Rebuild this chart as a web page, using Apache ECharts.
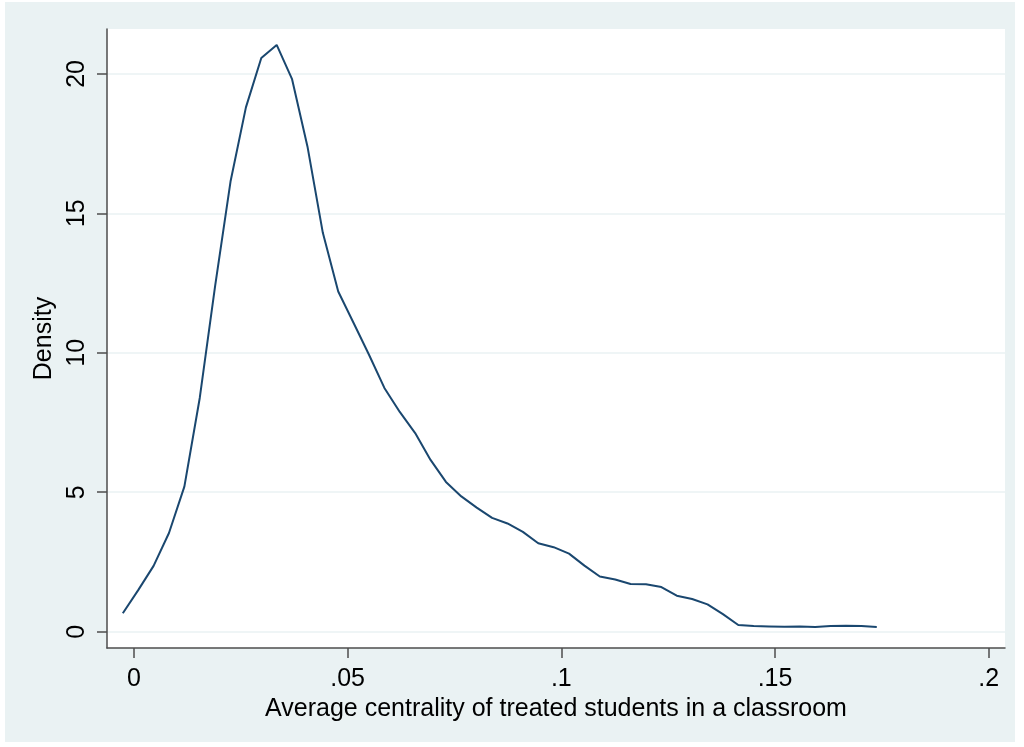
<!DOCTYPE html>
<html>
<head>
<meta charset="utf-8">
<script src="https://cdn.jsdelivr.net/npm/echarts@6/dist/echarts.min.js"></script>
<style>
  html, body { margin: 0; padding: 0; background: #ffffff; }
  #chart { position: absolute; left: 5px; top: 2px; width: 1010px; height: 740px; background: #eaf2f3; }
</style>
</head>
<body>
<div id="chart"></div>
<script>
// Kernel density estimate: evaluation points and density values
const xPoints = [
  -0.0026, 0.0010, 0.0046, 0.0082, 0.0118, 0.0154, 0.0190, 0.0226, 0.0262, 0.0298,
  0.0334, 0.0370, 0.0406, 0.0442, 0.0478, 0.0514, 0.0550, 0.0586, 0.0622, 0.0658,
  0.0694, 0.0730, 0.0766, 0.0802, 0.0838, 0.0874, 0.0910, 0.0946, 0.0982, 0.1018,
  0.1054, 0.1090, 0.1126, 0.1162, 0.1198, 0.1234, 0.1270, 0.1306, 0.1342, 0.1378,
  0.1414, 0.1450, 0.1486, 0.1522, 0.1558, 0.1594, 0.1630, 0.1666, 0.1702, 0.1738
];
const densityValues = [
  0.66, 1.49, 2.36, 3.54, 5.20, 8.38, 12.40, 16.14, 18.80, 20.57,
  21.04, 19.81, 17.40, 14.30, 12.20, 11.07, 9.93, 8.74, 7.88, 7.12,
  6.16, 5.37, 4.85, 4.45, 4.08, 3.88, 3.58, 3.17, 3.03, 2.80,
  2.37, 1.98, 1.87, 1.71, 1.70, 1.60, 1.29, 1.17, 0.98, 0.63,
  0.24, 0.20, 0.19, 0.18, 0.19, 0.17, 0.20, 0.21, 0.20, 0.17
];
const xTickValues = [0, 0.05, 0.1, 0.15, 0.2];
const xTickLabels = ['0', '.05', '.1', '.15', '.2'];
const yTickValues = [0, 5, 10, 15, 20];
const xTitle = 'Average centrality of treated students in a classroom';
const yTitle = 'Density';

const seriesData = xPoints.map((x, i) => [x, densityValues[i]]);
const fontFamily = 'Liberation Sans, Arial, sans-serif';
const fontSize = 25;
const axisColor = '#4d4d4d';

const chart = echarts.init(document.getElementById('chart'), null, { renderer: 'canvas' });
chart.setOption({
  animation: false,
  backgroundColor: '#eaf2f3',
  grid: { left: 102, top: 27, width: 898, height: 619, show: true, backgroundColor: '#ffffff', borderWidth: 0 },
  xAxis: {
    type: 'value',
    min: -0.0063,
    max: 0.2038,
    name: xTitle,
    nameLocation: 'middle',
    nameGap: 44,
    nameTextStyle: { color: '#000', fontSize: fontSize, fontFamily: fontFamily },
    axisLine: { show: true, onZero: false, lineStyle: { color: axisColor, width: 1.5 } },
    axisTick: { show: true, length: 10, customValues: xTickValues, lineStyle: { color: axisColor, width: 1.5 } },
    axisLabel: {
      customValues: xTickValues,
      margin: 19,
      color: '#000', fontSize: fontSize, fontFamily: fontFamily,
      formatter: v => {
        const idx = xTickValues.findIndex(t => Math.abs(t - v) < 1e-9);
        return idx >= 0 ? xTickLabels[idx] : '';
      }
    },
    splitLine: { show: false }
  },
  yAxis: {
    type: 'value',
    min: -0.585,
    max: 21.61,
    name: yTitle,
    nameLocation: 'middle',
    nameGap: 42,
    nameTextStyle: { color: '#000', fontSize: fontSize, fontFamily: fontFamily },
    axisLine: { show: true, onZero: false, lineStyle: { color: axisColor, width: 1.5 } },
    axisTick: { show: true, length: 10, customValues: yTickValues, lineStyle: { color: axisColor, width: 1.5 } },
    axisLabel: {
      customValues: yTickValues,
      rotate: 90,
      margin: 17,
      color: '#000', fontSize: fontSize, fontFamily: fontFamily
    },
    splitLine: { show: true, lineStyle: { color: '#eaf2f3', width: 1.5 } }
  },
  series: [{
    type: 'line',
    data: seriesData,
    showSymbol: false,
    smooth: false,
    lineStyle: { color: '#1a476f', width: 2 },
    itemStyle: { color: '#1a476f' }
  }]
});
</script>
</body>
</html>
